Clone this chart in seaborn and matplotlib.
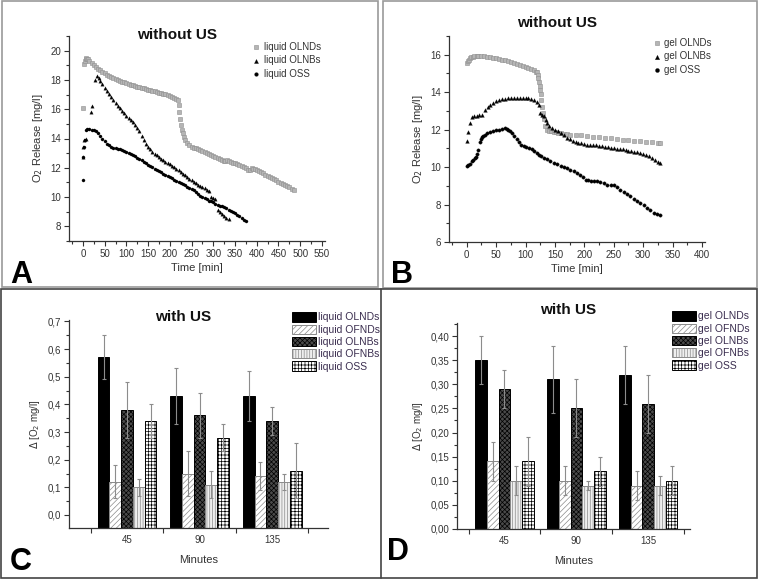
import numpy as np
import pandas as pd
import matplotlib
matplotlib.use('Agg')
import matplotlib.pyplot as plt
import seaborn as sns
from matplotlib.patches import Rectangle, Patch
from matplotlib.lines import Line2D
from matplotlib.ticker import MultipleLocator, FuncFormatter

sns.set_style('white')
plt.rcParams['font.family'] = ['Liberation Sans', 'DejaVu Sans']
plt.rcParams['hatch.linewidth'] = 0.5

# ---- panel A: liquid, without US ----
a_olnds_t = [0, 2, 4, 6, 8, 10, 12,
             15, 20, 25, 30, 35, 40, 45, 50, 55, 60,
             65, 70, 75, 80, 85, 90, 95, 100, 105, 110,
             115, 120, 125, 130, 135, 140, 145, 150, 155, 160,
             165, 170, 175, 180, 185, 190, 195, 200, 205, 210, 215,
             218, 220, 222, 224, 226, 228, 230, 233, 236, 240,
             245, 250, 255, 260, 265, 270, 275, 280, 285, 290, 295, 300, 305, 310, 315, 320, 325,
             328, 332, 336, 340,
             345, 350, 355, 360, 365, 370, 375, 380,
             384, 388, 392, 396, 400,
             405, 410, 415, 420, 425, 430, 435, 440, 445, 450, 455, 460, 465, 470, 475, 480, 485]
a_olnds_v = [16.05, 19.1, 19.3, 19.45, 19.5, 19.45, 19.4,
             19.3, 19.15, 19.0, 18.88, 18.76, 18.65, 18.55, 18.45, 18.36, 18.28,
             18.2, 18.12, 18.05, 17.99, 17.93, 17.88, 17.83, 17.78, 17.73, 17.68,
             17.63, 17.59, 17.54, 17.5, 17.46, 17.42, 17.38, 17.34, 17.3, 17.26,
             17.22, 17.18, 17.14, 17.1, 17.06, 17.02, 16.97, 16.92, 16.86, 16.8, 16.7,
             16.6, 16.3, 15.8, 15.3, 14.9, 14.6, 14.35, 14.1, 13.9, 13.72,
             13.56, 13.45, 13.38, 13.32, 13.26, 13.2, 13.12, 13.05, 12.98, 12.91, 12.85, 12.8, 12.74, 12.68, 12.6, 12.54, 12.48,
             12.45, 12.5, 12.46, 12.42,
             12.36, 12.3, 12.24, 12.17, 12.1, 12.03, 11.96, 11.88,
             11.85, 11.98, 11.95, 11.9, 11.85,
             11.78, 11.7, 11.62, 11.54, 11.46, 11.38, 11.3, 11.22, 11.14, 11.06, 10.98, 10.9, 10.82, 10.74, 10.66, 10.55, 10.45]

a_olnbs_t = [0, 1, 3, 6, 18, 22, 27, 32, 36,
             40, 45, 50, 55, 60, 65, 70, 75, 80, 85,
             90, 95, 100, 105, 110, 115, 120, 125, 130, 135,
             140, 145, 150, 155, 160, 165, 170, 175, 180, 185,
             190, 195, 200, 205, 210, 215, 220, 225, 230, 235,
             240, 245, 250, 255, 260, 265, 270, 275, 280, 285, 290,
             295, 300, 305, 310, 315, 320, 325, 330, 335]
a_olnbs_v = [12.75, 13.45, 13.9, 14.0, 15.8, 16.2, 18.0, 18.25, 18.1,
             17.95, 17.7, 17.45, 17.25, 17.05, 16.85, 16.62, 16.45, 16.25, 16.05,
             15.88, 15.72, 15.55, 15.4, 15.25, 15.1, 14.95, 14.75, 14.5, 14.2,
             13.9, 13.65, 13.45, 13.25, 13.1, 12.95, 12.85, 12.75, 12.62, 12.5,
             12.42, 12.33, 12.25, 12.15, 12.05, 11.95, 11.82, 11.72, 11.6, 11.48,
             11.36, 11.26, 11.15, 11.05, 10.95, 10.85, 10.78, 10.7, 10.6, 10.5, 10.42,
             10.0, 9.95, 9.85, 9.1, 8.95, 8.85, 8.72, 8.6, 8.5]

a_oss_t = [0, 1, 3, 5, 7, 10,
           15, 20, 25, 30, 35, 40, 45, 50, 55, 60,
           65, 70, 75, 80, 85, 90, 95, 100, 105, 110,
           115, 120, 125, 130, 135, 140, 145, 150, 155, 160,
           165, 170, 175, 180, 185, 190, 195, 200, 205, 210,
           215, 220, 225, 230, 235, 240, 245, 250, 255, 260,
           265, 270, 275, 280, 285, 290, 295, 300, 305, 310,
           315, 320, 325, 330, 335, 340, 345, 350, 355, 360,
           365, 370, 375]
a_oss_v = [11.2, 12.75, 13.45, 13.9, 14.55, 14.65,
           14.65, 14.6, 14.55, 14.5, 14.35, 14.15, 13.95, 13.8, 13.65, 13.55,
           13.45, 13.38, 13.32, 13.27, 13.25, 13.2, 13.15, 13.1, 13.02, 12.95,
           12.88, 12.8, 12.7, 12.6, 12.5, 12.4, 12.3, 12.22, 12.12, 12.03,
           11.94, 11.85, 11.76, 11.68, 11.6, 11.52, 11.44, 11.36, 11.28, 11.2,
           11.12, 11.04, 10.96, 10.88, 10.8, 10.72, 10.64, 10.56, 10.46, 10.34,
           10.22, 10.1, 10.0, 9.92, 9.84, 9.76, 9.7, 9.64, 9.55, 9.45,
           9.4, 9.4, 9.35, 9.25, 9.15, 9.05, 8.97, 8.9, 8.8, 8.68,
           8.55, 8.45, 8.35]

# ---- panel B: gel, without US ----
b_olnds_t = [0, 2, 4, 6, 8, 10, 13, 17, 20,
             25, 30, 35, 40, 45, 50, 55, 60, 65, 70, 75, 80, 85, 90, 95, 100, 105, 110,
             114, 117, 119, 121,
             122, 123, 124, 125, 126, 127, 128, 129,
             131, 133, 136,
             140, 144, 148, 152, 156, 160, 165, 170, 176,
             185, 195, 205, 215, 225, 235, 245, 255, 265, 275, 285, 295, 305, 315, 325, 329]
b_olnds_v = [15.55, 15.65, 15.74, 15.82, 15.87, 15.9, 15.93, 15.95, 15.95,
             15.93, 15.91, 15.9, 15.87, 15.83, 15.8, 15.77, 15.74, 15.7, 15.66, 15.62, 15.57, 15.52, 15.45, 15.4, 15.36, 15.3, 15.22,
             15.16, 15.1, 15.06, 14.9,
             14.75, 14.55, 14.35, 14.1, 13.9, 13.6, 13.2, 12.9,
             12.55, 12.2, 12.0,
             11.95, 11.92, 11.9, 11.85, 11.82, 11.8, 11.77, 11.75, 11.73,
             11.71, 11.69, 11.66, 11.63, 11.6, 11.57, 11.54, 11.5, 11.47, 11.44, 11.41, 11.38, 11.35, 11.32, 11.3, 11.29]

b_olnbs_t = [0, 3, 6, 9, 13, 17, 21, 26, 31, 36,
             40, 45, 50, 55, 60, 65, 70, 75, 80, 85, 90, 95, 100, 105, 110, 115, 120,
             123, 125, 128, 131, 134, 137,
             140, 145, 150, 155, 160, 165, 170, 175, 180, 185,
             190, 195, 200, 205, 210, 215, 220, 225, 230, 235,
             240, 245, 250, 255, 260, 265, 270, 275, 280, 285,
             290, 295, 300, 305, 310, 315, 320, 325, 329]
b_olnbs_v = [11.38, 11.9, 12.36, 12.66, 12.72, 12.75, 12.77, 12.8, 13.07, 13.22,
             13.33, 13.43, 13.53, 13.58, 13.62, 13.66, 13.68, 13.69, 13.69, 13.69, 13.69, 13.68, 13.68, 13.67, 13.63, 13.57, 13.45,
             13.33, 12.89, 12.8, 12.75, 12.53, 12.35,
             12.2, 12.07, 12.0, 11.92, 11.82, 11.7, 11.56, 11.48, 11.4, 11.36,
             11.3, 11.26, 11.22, 11.2, 11.2, 11.2, 11.17, 11.14, 11.11, 11.08,
             11.05, 11.03, 11.02, 10.99, 10.96, 10.94, 10.91, 10.88, 10.85, 10.82,
             10.79, 10.76, 10.7, 10.64, 10.58, 10.5, 10.4, 10.28, 10.22]

b_oss_t = [0, 3, 6, 9, 11, 14, 16, 18, 20, 22,
           24, 26, 28, 31, 35, 40, 45, 50, 55, 60,
           65, 68, 71, 74, 77, 81, 85, 89, 93, 97,
           101, 106, 111, 115, 119, 123, 127, 131, 136, 142,
           148, 154, 160, 165, 170, 176, 182, 187, 193, 198,
           202, 207, 212, 217, 222, 227, 233, 239, 245, 250,
           255, 261, 267, 273, 278, 284, 290, 295, 301, 307,
           312, 318, 323, 329]
b_oss_v = [10.08, 10.12, 10.17, 10.3, 10.4, 10.48, 10.54, 10.7, 10.9, 11.32,
           11.5, 11.6, 11.66, 11.73, 11.8, 11.87, 11.92, 11.97, 12.0, 12.03,
           12.07, 12.05, 12.0, 11.92, 11.82, 11.65, 11.5, 11.35, 11.2, 11.11,
           11.07, 11.02, 10.97, 10.86, 10.76, 10.67, 10.58, 10.49, 10.41, 10.31,
           10.22, 10.14, 10.06, 9.99, 9.93, 9.86, 9.78, 9.7, 9.6, 9.45,
           9.33, 9.3, 9.28, 9.26, 9.24, 9.2, 9.13, 9.07, 9.05, 9.03,
           8.92, 8.8, 8.68, 8.57, 8.43, 8.3, 8.19, 8.09, 7.95, 7.82,
           7.69, 7.56, 7.5, 7.43]

# ---- panels C / D: with US ----
minutes = ['45', '90', '135']
kinds = ['OLNDs', 'OFNDs', 'OLNBs', 'OFNBs', 'OSS']

c_olnds = [0.57, 0.43, 0.43]
c_ofnds = [0.12, 0.15, 0.14]
c_olnbs = [0.38, 0.36, 0.34]
c_ofnbs = [0.10, 0.11, 0.12]
c_oss = [0.34, 0.28, 0.16]
c_olnds_err = [0.08, 0.10, 0.09]
c_ofnds_err = [0.06, 0.08, 0.05]
c_olnbs_err = [0.10, 0.08, 0.05]
c_ofnbs_err = [0.03, 0.05, 0.03]
c_oss_err = [0.06, 0.05, 0.10]

d_olnds = [0.35, 0.31, 0.32]
d_ofnds = [0.14, 0.10, 0.09]
d_olnbs = [0.29, 0.25, 0.26]
d_ofnbs = [0.10, 0.09, 0.09]
d_oss = [0.14, 0.12, 0.10]
d_olnds_err = [0.05, 0.07, 0.06]
d_ofnds_err = [0.04, 0.03, 0.03]
d_olnbs_err = [0.04, 0.06, 0.06]
d_ofnbs_err = [0.03, 0.01, 0.02]
d_oss_err = [0.05, 0.03, 0.03]

# bar styles (face, edge/hatch colour, hatch)
bar_face = ['#000000', '#ffffff', '#4a4a4a', '#efefef', '#ffffff']
bar_edge = ['#000000', '#8a8a8a', '#000000', '#8a8a8a', '#000000']
bar_hatch = [None, '//////', 'xxxxxxx', '||||||', '+++++']

W, H = 759, 580
fig = plt.figure(figsize=(W / 100, H / 100), dpi=100)


def box(l, t, r, b):
    return [l / W, 1 - b / H, (r - l) / W, (b - t) / H]


def style_axes(ax):
    sns.despine(ax=ax)
    for s in ['left', 'bottom']:
        ax.spines[s].set_color('#333333')
        ax.spines[s].set_linewidth(0.9)
    ax.tick_params(which='both', bottom=True, left=True, direction='out',
                   colors='#333333', width=0.8)
    ax.tick_params(which='major', length=3.5, labelsize=7, pad=2)
    ax.tick_params(which='minor', length=2)
    ax.grid(False)


txt = '#333333'

# ---------- A ----------
axA = fig.add_axes(box(69, 36, 325, 241))
sns.scatterplot(x=a_olnds_t, y=a_olnds_v, marker='s', s=6, color='#b5b5b5',
                edgecolor='#8f8f8f', linewidth=0.4, ax=axA, label='liquid OLNDs', zorder=3)
sns.scatterplot(x=a_olnbs_t, y=a_olnbs_v, marker='^', s=6, color='black',
                edgecolor='black', linewidth=0.2, ax=axA, label='liquid OLNBs', zorder=4)
sns.scatterplot(x=a_oss_t, y=a_oss_v, marker='o', s=5, color='black',
                edgecolor='black', linewidth=0.2, ax=axA, label='liquid OSS', zorder=4)
axA.set_xlim(-32, 557)
axA.set_ylim(7, 21)
axA.xaxis.set_major_locator(MultipleLocator(50))
axA.xaxis.set_minor_locator(MultipleLocator(25))
axA.yaxis.set_minor_locator(MultipleLocator(1))
axA.set_yticks([8, 10, 12, 14, 16, 18, 20])
style_axes(axA)
axA.set_xlabel('Time [min]', fontsize=8, color=txt, labelpad=3)
axA.set_ylabel('O$_2$ Release [mg/l]', fontsize=8, color=txt, labelpad=4)
axA.legend(loc='upper left', bbox_to_anchor=(246 / W, 1 - 37 / H), bbox_transform=fig.transFigure,
           frameon=False, fontsize=7, handletextpad=0.3, labelspacing=0.35, markerscale=1.2,
           handlelength=1.0, borderpad=0, labelcolor=txt)
fig.text(177 / W, 1 - 35 / H, 'without US', ha='center', va='center', fontsize=11,
         fontweight='bold', color='#111111')

# ---------- B ----------
axB = fig.add_axes(box(449, 36, 705, 242))
sns.scatterplot(x=b_olnds_t, y=b_olnds_v, marker='s', s=7, color='#b5b5b5',
                edgecolor='#8f8f8f', linewidth=0.4, ax=axB, label='gel OLNDs', zorder=3)
sns.scatterplot(x=b_olnbs_t, y=b_olnbs_v, marker='^', s=7, color='black',
                edgecolor='black', linewidth=0.2, ax=axB, label='gel OLNBs', zorder=4)
sns.scatterplot(x=b_oss_t, y=b_oss_v, marker='o', s=6, color='black',
                edgecolor='black', linewidth=0.2, ax=axB, label='gel OSS', zorder=4)
axB.set_xlim(-30, 405)
axB.set_ylim(6, 17)
axB.xaxis.set_major_locator(MultipleLocator(50))
axB.xaxis.set_minor_locator(MultipleLocator(25))
axB.yaxis.set_minor_locator(MultipleLocator(1))
axB.set_yticks([6, 8, 10, 12, 14, 16])
style_axes(axB)
axB.set_xlabel('Time [min]', fontsize=8, color=txt, labelpad=3)
axB.set_ylabel('O$_2$ Release [mg/l]', fontsize=8, color=txt, labelpad=4)
axB.legend(loc='upper left', bbox_to_anchor=(647 / W, 1 - 33 / H), bbox_transform=fig.transFigure,
           frameon=False, fontsize=7, handletextpad=0.3, labelspacing=0.35, markerscale=1.2,
           handlelength=1.0, borderpad=0, labelcolor=txt)
fig.text(557 / W, 1 - 23 / H, 'without US', ha='center', va='center', fontsize=11,
         fontweight='bold', color='#111111')


# ---------- bar panels ----------
def bar_panel(ax, vals, errs, prefix, ylo, yhi, major, fmt):
    rows = []
    for k, v_list in zip(kinds, vals):
        for m, v in zip(minutes, v_list):
            rows.append({'Minutes': m, 'group': prefix + k, 'value': v})
    df = pd.DataFrame(rows)
    sns.barplot(data=df, x='Minutes', y='value', hue='group', order=minutes,
                hue_order=[prefix + k for k in kinds], palette=bar_face, saturation=1,
                width=0.81, errorbar=None, legend=False, ax=ax)
    bar_conts = list(ax.containers)
    for i, cont in enumerate(bar_conts):
        xs = []
        for b in cont:
            b.set_edgecolor(bar_edge[i])
            b.set_linewidth(0.7)
            if bar_hatch[i]:
                b.set_hatch(bar_hatch[i])
            h = b.get_height()
            b.set_y(ylo)
            b.set_height(h - ylo)
            xs.append(b.get_x() + b.get_width() / 2)
        ax.errorbar(xs, vals[i], yerr=errs[i], fmt='none', ecolor='#8c8c8c',
                    elinewidth=0.8, capsize=1.6, capthick=0.8, zorder=5)
    ax.set_ylim(ylo, yhi)
    ax.yaxis.set_major_locator(MultipleLocator(major))
    ax.yaxis.set_minor_locator(MultipleLocator(major / 2))
    ax.yaxis.set_major_formatter(FuncFormatter(lambda v, p: fmt.format(v).replace('.', ',')))
    ax.set_xticks([0, 1, 2])
    ax.set_xticks([-0.5, 0.5, 1.5, 2.5], minor=True)
    style_axes(ax)
    ax.tick_params(axis='x', which='major', length=0, pad=5)
    ax.tick_params(axis='x', which='minor', length=3.5)
    ax.set_xlabel('Minutes', fontsize=8, color=txt, labelpad=7)
    ax.set_ylabel('$\\Delta$ [O$_2$ mg/l]', fontsize=7, color=txt, labelpad=4)
    handles = [Patch(facecolor=bar_face[i], edgecolor=bar_edge[i], hatch=bar_hatch[i],
                     linewidth=0.7, label=prefix + kinds[i]) for i in range(5)]
    return handles


axC = fig.add_axes(box(69, 320, 328, 528))
hC = bar_panel(axC, [c_olnds, c_ofnds, c_olnbs, c_ofnbs, c_oss],
               [c_olnds_err, c_ofnds_err, c_olnbs_err, c_ofnbs_err, c_oss_err],
               'liquid ', -0.047, 0.705, 0.1, '{:.1f}')
axC.set_xlim(-0.8, 2.77)
axC.legend(handles=hC, loc='upper left', bbox_to_anchor=(287 / W, 1 - 307 / H),
           bbox_transform=fig.transFigure, frameon=False, fontsize=7.5, handlelength=2.3,
           handleheight=1.0, handletextpad=0.15, labelspacing=0.2, borderpad=0,
           labelcolor='#3a2d4f')
fig.text(183 / W, 1 - 317 / H, 'with US', ha='center', va='center', fontsize=11,
         fontweight='bold', color='#111111')

axD = fig.add_axes(box(457, 323, 690, 529))
hD = bar_panel(axD, [d_olnds, d_ofnds, d_olnbs, d_ofnbs, d_oss],
               [d_olnds_err, d_ofnds_err, d_olnbs_err, d_ofnbs_err, d_oss_err],
               'gel ', 0.0, 0.427, 0.05, '{:.2f}')
axD.set_xlim(-0.66, 2.58)
axD.legend(handles=hD, loc='upper left', bbox_to_anchor=(667 / W, 1 - 306 / H),
           bbox_transform=fig.transFigure, frameon=False, fontsize=7.5, handlelength=2.3,
           handleheight=1.0, handletextpad=0.15, labelspacing=0.2, borderpad=0,
           labelcolor='#3a2d4f')
fig.text(568 / W, 1 - 310 / H, 'with US', ha='center', va='center', fontsize=11,
         fontweight='bold', color='#111111')

# panel letters
for lab, x, y in [('A', 10, 283), ('B', 391, 283), ('C', 10, 570), ('D', 387, 560)]:
    fig.text(x / W, 1 - y / H, lab, fontsize=22, fontweight='bold', color='black',
             ha='left', va='baseline')

# panel frames
for l, t, r, b, c in [(2, 1, 378, 287, '#9a9a9a'), (383, 1, 757, 288, '#9a9a9a')]:
    fig.add_artist(Rectangle((l / W, 1 - b / H), (r - l) / W, (b - t) / H, fill=False,
                             edgecolor=c, linewidth=1.2, transform=fig.transFigure))
fig.add_artist(Rectangle((1 / W, 1 - 578 / H), 756 / W, 289 / H, fill=False,
                         edgecolor='#444444', linewidth=1.2, transform=fig.transFigure))
fig.add_artist(Line2D([381 / W, 381 / W], [1 - 578 / H, 1 - 289 / H], color='#444444',
                      linewidth=1.2, transform=fig.transFigure))

fig.savefig('out.png', dpi=100)
